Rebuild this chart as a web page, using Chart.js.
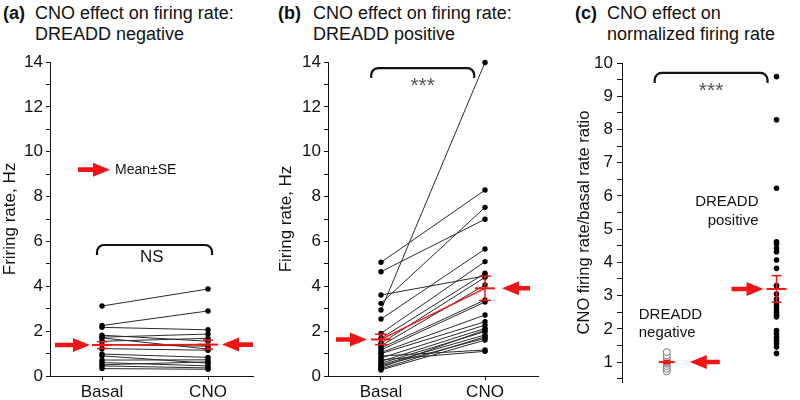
<!DOCTYPE html>
<html><head><meta charset="utf-8">
<script src="https://cdn.jsdelivr.net/npm/chart.js@4.4.1/dist/chart.umd.min.js"></script>
<style>
body{margin:0;background:#fff;width:800px;height:400px;position:relative;overflow:hidden;font-family:"Liberation Sans",Arial,sans-serif;}
canvas{position:absolute;top:0;}
.ttl{position:absolute;font-size:18px;line-height:21px;color:#111;white-space:nowrap;}
.ttl b{position:absolute;}
</style></head><body>
<div class="ttl" style="left:35px;top:3px"><b style="left:-32px">(a)</b>CNO effect on firing rate:<br>DREADD negative</div>
<div class="ttl" style="left:313px;top:3px"><b style="left:-35px">(b)</b>CNO effect on firing rate:<br>DREADD positive</div>
<div class="ttl" style="left:607px;top:3px"><b style="left:-32px">(c)</b>CNO effect on<br>normalized firing rate</div>
<canvas id="ca" width="265" height="400" style="left:0px"></canvas>
<canvas id="cb" width="280" height="400" style="left:270px"></canvas>
<canvas id="cc" width="250" height="400" style="left:550px"></canvas>
<script>
// ---------- data ----------
const categoriesAB = ['Basal', 'CNO'];
const yTickLabelsAB = [0, 2, 4, 6, 8, 10, 12, 14];
const yTickLabelsC = [1, 2, 3, 4, 5, 6, 7, 8, 9, 10];

// (a) DREADD negative: paired firing rates, Hz
const negBasal = [3.12, 2.25, 2.17, 1.82, 1.73, 1.70, 1.55, 1.40, 1.22, 0.98, 0.90, 0.71, 0.60, 0.50, 0.45, 0.33];
const negCNO   = [3.88, 2.90, 2.06, 1.55, 1.87, 1.20, 1.68, 1.33, 1.15, 0.83, 0.57, 0.72, 0.45, 0.63, 0.36, 0.30];
const negMean = [1.38, 1.40];
const negSE   = [0.15, 0.20];

// (b) DREADD positive: paired firing rates, Hz
const posBasal = [5.07, 4.65, 3.61, 3.24, 2.94, 2.54, 1.90, 1.68, 1.46, 1.35, 1.25, 1.16, 1.05, 1.00, 0.89, 0.80, 0.72, 0.65, 0.57, 0.50, 0.45, 0.38, 0.32, 0.27];
const posCNO   = [8.29, 6.99, 4.46, 7.52, 13.98, 5.66, 5.10, 4.58, 4.40, 4.06, 3.39, 3.30, 2.72, 2.42, 1.16, 2.27, 1.10, 2.12, 1.98, 1.83, 1.68, 2.05, 1.75, 1.60];
const posMean = [1.63, 3.91];
const posSE   = [0.23, 0.54];

// (c) CNO / basal rate ratio
const ratioGroups = ['DREADD negative', 'DREADD positive'];
const ratioNeg = [0.72, 0.80, 0.88, 0.95, 1.00, 1.05, 1.12, 1.20, 1.30];
const ratioPos = [9.59, 8.29, 6.23, 4.62, 4.55, 4.42, 4.32, 4.07, 3.82, 3.30, 3.05, 2.90, 2.80, 2.70, 2.60, 2.50, 2.42, 2.36, 1.95, 1.85, 1.75, 1.65, 1.55, 1.45, 1.26];
const ratioMean = [1.00, 3.20];
const ratioSE   = [0.05, 0.40];

// ---------- helpers ----------
const RED = '#f01414';
const FONT = '"Liberation Sans", Arial, sans-serif';
const INK = '#111';

const annot = {
  id: 'annot',
  afterDatasetsDraw(chart, args, opts) {
    const ctx = chart.ctx, xs = chart.scales.x, ys = chart.scales.y;
    const X = v => xs.getPixelForValue(v), Y = v => ys.getPixelForValue(v);
    ctx.save();
    (opts.brackets || []).forEach(b => {
      const x1 = X(b.x1), x2 = X(b.x2), yt = Y(b.y), d = 10, r = 7;
      ctx.beginPath();
      ctx.moveTo(x1, yt + d);
      ctx.arcTo(x1, yt, x1 + r, yt, r);
      ctx.arcTo(x2, yt, x2, yt + r, r);
      ctx.lineTo(x2, yt + d);
      ctx.lineWidth = 2.2; ctx.strokeStyle = INK; ctx.stroke();
    });
    (opts.arrows || []).forEach(a => {
      const tip = X(a.x) + a.dx, ay = Y(a.y), dir = a.dir;
      const L = a.len, hl = 17, hh = 7, sw = 2.3;
      const tail = tip - dir * L, base = tip - dir * hl;
      ctx.beginPath();
      ctx.moveTo(tail, ay - sw); ctx.lineTo(base, ay - sw); ctx.lineTo(base, ay - hh);
      ctx.lineTo(tip, ay); ctx.lineTo(base, ay + hh); ctx.lineTo(base, ay + sw);
      ctx.lineTo(tail, ay + sw); ctx.closePath();
      ctx.fillStyle = RED; ctx.fill();
    });
    (opts.texts || []).forEach(t => {
      ctx.font = t.font; ctx.fillStyle = t.color || INK;
      ctx.textAlign = t.align || 'center'; ctx.textBaseline = 'middle';
      ctx.fillText(t.text, X(t.x) + (t.dx || 0), Y(t.y) + (t.dy || 0));
    });
    ctx.restore();
  }
};

function pairDatasets(basal, cno) {
  return basal.map((b, i) => ({
    type: 'line', order: 2, clip: false,
    data: [{x: 1, y: b}, {x: 2, y: cno[i]}],
    borderColor: '#2a2a2a', borderWidth: 1,
    pointRadius: 2.7, pointBackgroundColor: '#000', pointBorderWidth: 0
  }));
}
function meanDatasets(mean, se, markR, capR, lw) {
  const ds = [{
    type: 'line', order: 0, clip: false,
    data: mean.map((m, i) => ({x: i + 1, y: m})),
    borderColor: RED, borderWidth: lw,
    pointStyle: 'line', pointRadius: markR, pointBorderColor: RED, pointBorderWidth: 2, pointBackgroundColor: RED
  }];
  mean.forEach((m, i) => ds.push({
    type: 'line', order: 0, clip: false,
    data: [{x: i + 1, y: m - se[i]}, {x: i + 1, y: m + se[i]}],
    borderColor: RED, borderWidth: 1.5,
    pointStyle: 'line', pointRadius: capR, pointBorderColor: RED, pointBorderWidth: 1.5
  }));
  return ds;
}
function yAxis(min, max, step, labels, width, title, titleSize, titlePad, tickLen, tickPad) {
  return {
    type: 'linear', min, max,
    afterBuildTicks: s => {
      const t = []; for (let v = Math.ceil(min / step) * step; v <= max + 1e-9; v += step) t.push({value: +v.toFixed(3)});
      s.ticks = t;
    },
    afterFit: s => { s.width = width; },
    ticks: {autoSkip: false, padding: tickPad, color: INK, font: {family: FONT, size: 17},
      callback: v => labels.includes(v) ? String(v) : ''},
    grid: {drawOnChartArea: false, drawTicks: true, tickLength: tickLen, color: INK},
    border: {display: true, color: INK, width: 1},
    title: {display: true, text: title, color: INK, font: {family: FONT, size: titleSize}, padding: {top: titlePad, bottom: 0}}
  };
}
function xAxisAB(min, max) {
  return {
    type: 'linear', min, max,
    afterBuildTicks: s => { s.ticks = categoriesAB.map((c, i) => ({value: i + 1})); },
    afterFit: s => { s.height = 24; },
    ticks: {autoSkip: false, maxRotation: 0, padding: 2, color: INK, font: {family: FONT, size: 17},
      callback: v => categoriesAB[v - 1]},
    grid: {drawOnChartArea: false, drawTicks: true, tickLength: 4, color: INK},
    border: {display: true, color: INK, width: 1}
  };
}
const common = {
  responsive: false, animation: false, events: [],
  plugins: {legend: {display: false}, tooltip: {enabled: false}}
};

// ---------- (a) ----------
new Chart(document.getElementById('ca'), {
  type: 'line',
  data: {datasets: [...meanDatasets(negMean, negSE, 10, 5, 1.6), ...pairDatasets(negBasal, negCNO)]},
  options: {...common,
    layout: {padding: {left: 0, right: 12, top: 62, bottom: 0}},
    scales: {x: xAxisAB(0.5094, 2.4245), y: yAxis(0, 14, 1, yTickLabelsAB, 50, 'Friring rate, Hz', 17, 0, 4, 3)},
    plugins: {...common.plugins, annot: {
      brackets: [{x1: 0.953, x2: 2.038, y: 5.84}],
      arrows: [
        {x: 1, y: negMean[0], dx: -12, dir: 1, len: 35},
        {x: 2, y: negMean[1], dx: 14, dir: -1, len: 31},
        {x: 1, y: 9.2, dx: 8, dir: 1, len: 32}
      ],
      texts: [
        {text: 'NS', x: 1.47, y: 5.27, font: '17px ' + FONT},
        {text: 'Mean\u00B1SE', x: 1, dx: 13, y: 9.2, align: 'left', font: '14px ' + FONT}
      ]
    }}
  },
  plugins: [annot]
});

// ---------- (b) ----------
new Chart(document.getElementById('cb'), {
  type: 'line',
  data: {datasets: [...meanDatasets(posMean, posSE, 10, 6, 1.3), ...pairDatasets(posBasal, posCNO)]},
  options: {...common,
    layout: {padding: {left: 0, right: 8, top: 62, bottom: 0}},
    scales: {x: xAxisAB(0.4906, 2.5094), y: yAxis(0, 14, 1, yTickLabelsAB, 58, 'Firing rate, Hz', 17, 6, 4, 3)},
    plugins: {...common.plugins, annot: {
      brackets: [{x1: 0.906, x2: 1.896, y: 13.73}],
      arrows: [
        {x: 1, y: posMean[0], dx: -14, dir: 1, len: 31},
        {x: 2, y: posMean[1], dx: 17, dir: -1, len: 28}
      ],
      texts: [
        {text: '***', x: 1.401, y: 13.2, dy: 6, color: '#555', font: '21px ' + FONT}
      ]
    }}
  },
  plugins: [annot]
});

// ---------- (c) ----------
new Chart(document.getElementById('cc'), {
  type: 'scatter',
  data: {datasets: [
    {type: 'line', order: 0, clip: false, showLine: false,
      data: ratioMean.map((m, i) => ({x: i + 1, y: m})),
      pointStyle: 'line', pointRadius: [8, 10], pointBorderColor: RED, pointBorderWidth: 2},
    ...ratioMean.map((m, i) => ({
      type: 'line', order: 0, clip: false,
      data: [{x: i + 1, y: m - ratioSE[i]}, {x: i + 1, y: m + ratioSE[i]}],
      borderColor: RED, borderWidth: 1.5,
      pointStyle: 'line', pointRadius: [3, 5][i], pointBorderColor: RED, pointBorderWidth: 1.5
    })),
    {label: ratioGroups[0], order: 1, clip: false, data: ratioNeg.map(v => ({x: 1, y: v})),
      pointRadius: 3.5, pointBackgroundColor: '#fff', pointBorderColor: '#777', pointBorderWidth: 1},
    {label: ratioGroups[1], order: 1, clip: false, data: ratioPos.map(v => ({x: 2, y: v})),
      pointRadius: 2.8, pointBackgroundColor: '#000', pointBorderWidth: 0}
  ]},
  options: {...common,
    layout: {padding: {left: 0, right: 0, top: 63, bottom: 18}},
    scales: {
      x: {type: 'linear', display: false, min: 0.5922, max: 2.1045},
      y: yAxis(0.4, 10, 0.5, yTickLabelsC, 72, 'CNO firing rate/basal rate ratio', 16.5, 25, 5, 4)
    },
    plugins: {...common.plugins, annot: {
      brackets: [{x1: 0.89, x2: 1.918, y: 9.7}],
      arrows: [
        {x: 1, y: ratioMean[0], dx: 23, dir: -1, len: 30},
        {x: 2, y: ratioMean[1], dx: -13, dir: 1, len: 32}
      ],
      texts: [
        {text: '***', x: 1.404, y: 9.34, dy: 6, color: '#555', font: '21px ' + FONT},
        {text: 'DREADD', x: 2, dx: -18, y: 5.82, align: 'right', font: '15px ' + FONT},
        {text: 'positive', x: 2, dx: -18, y: 5.25, align: 'right', font: '15px ' + FONT},
        {text: 'DREADD', x: 1, dx: -28, y: 2.42, align: 'left', font: '15px ' + FONT},
        {text: 'negative', x: 1, dx: -28, y: 1.87, align: 'left', font: '15px ' + FONT}
      ]
    }}
  },
  plugins: [annot]
});
</script>
</body></html>
